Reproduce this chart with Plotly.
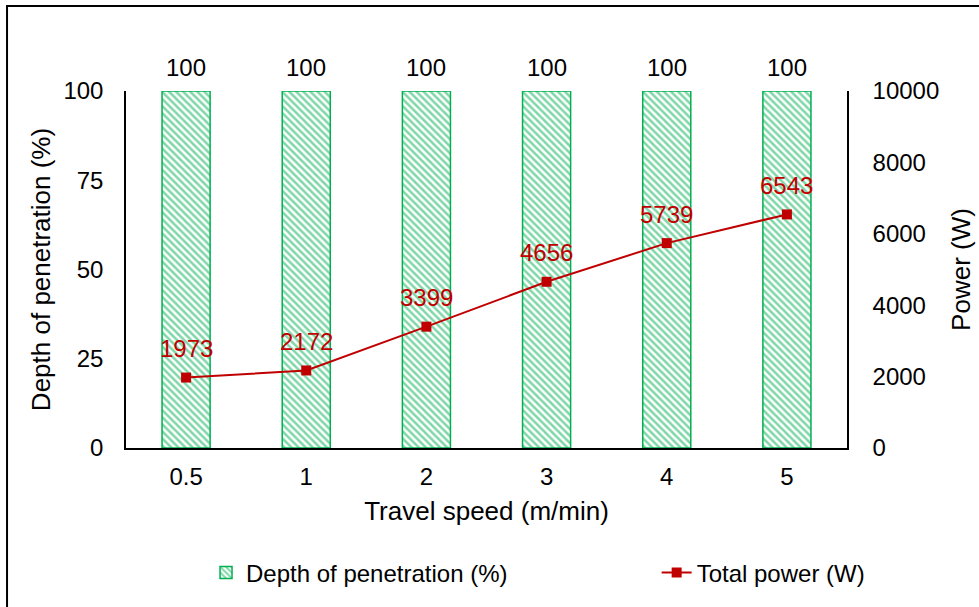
import plotly.graph_objects as go

# Travel speed categories and measured values
travel_speed = ["0.5", "1", "2", "3", "4", "5"]
depth_pct = [100, 100, 100, 100, 100, 100]
total_power = [1973, 2172, 3399, 4656, 5739, 6543]
power_ticks = [0, 2000, 4000, 6000, 8000, 10000]
depth_ticks = [0, 25, 50, 75, 100]

GREEN = "#00B050"
RED = "#C00000"
FONT = "Liberation Sans, Arial, sans-serif"

fig = go.Figure()

fig.add_trace(go.Bar(
    x=travel_speed, y=depth_pct, name="Depth of penetration (%)",
    width=0.4, legend="legend",
    marker=dict(color="white", line=dict(color=GREEN, width=1.5),
                pattern=dict(shape="\\", fgcolor=GREEN, bgcolor="white",
                             size=5, solidity=0.5)),
    yaxis="y",
))

fig.add_trace(go.Scatter(
    x=travel_speed, y=total_power, name="Total power (W)",
    mode="lines+markers", legend="legend2",
    line=dict(color=RED, width=2),
    marker=dict(symbol="square", size=10, color=RED),
    cliponaxis=False, yaxis="y2",
))

# value labels above bars and line points (x given as category index)
annotations = []
for i, v in enumerate(depth_pct):
    annotations.append(dict(x=i, y=v, xref="x", yref="y", text=str(v),
                            showarrow=False, yanchor="middle", yshift=24,
                            font=dict(size=24, color="black", family=FONT)))
for i, v in enumerate(total_power):
    annotations.append(dict(x=i, y=v, xref="x", yref="y2", text=str(v),
                            showarrow=False, yanchor="middle", yshift=29,
                            font=dict(size=24, color=RED, family=FONT)))

fig.update_layout(
    width=979, height=607,
    margin=dict(l=126, r=132, t=91, b=159),
    paper_bgcolor="white", plot_bgcolor="white",
    font=dict(family=FONT, size=24, color="black"),
    showlegend=True,
    legend=dict(x=0.111, xanchor="left", y=-0.35, yanchor="middle",
                font=dict(size=24), bgcolor="rgba(0,0,0,0)"),
    legend2=dict(x=0.736, xanchor="left", y=-0.35, yanchor="middle",
                 font=dict(size=24), bgcolor="rgba(0,0,0,0)"),
    xaxis=dict(type="category", showline=True, linecolor="black", linewidth=1.5,
               ticks="", showgrid=False, tickfont=dict(size=24),
               ticklabelstandoff=6, automargin=False,
               title=dict(text="Travel speed (m/min)", font=dict(size=26), standoff=13)),
    yaxis=dict(range=[0, 100], tickvals=depth_ticks, showline=True,
               linecolor="black", linewidth=1.5, ticks="", showgrid=False,
               tickfont=dict(size=24), ticklabelstandoff=16, automargin=False,
               title=dict(text="Depth of penetration (%)", font=dict(size=26), standoff=5)),
    yaxis2=dict(range=[0, 10000], tickvals=power_ticks,
                ticktext=[str(v) for v in power_ticks],
                overlaying="y", side="right", showline=True, linecolor="black",
                linewidth=1.5, ticks="", showgrid=False, tickfont=dict(size=24),
                ticklabelstandoff=19, automargin=False,
                title=dict(text="Power (W)", font=dict(size=26), standoff=14)),
    annotations=annotations,
    shapes=[dict(type="rect", xref="paper", yref="paper",
                 x0=-0.165, x1=1.4, y0=-0.7, y1=1.238,
                 line=dict(color="black", width=2))],
)

fig.write_html("out.html")
